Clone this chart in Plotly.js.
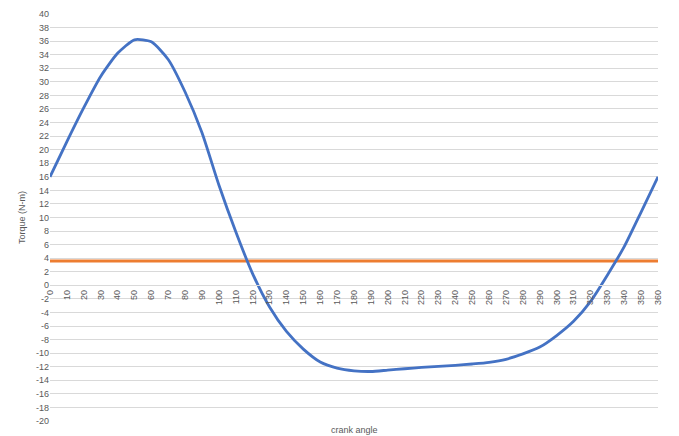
<!DOCTYPE html>
<html>
<head>
<meta charset="utf-8">
<script src="https://cdn.plot.ly/plotly-3.0.1.min.js"></script>
<style>html,body{margin:0;padding:0;background:#fff;}#chart{width:679px;height:436px;}</style>
</head>
<body>
<div id="chart"></div>
<script>
const crankAngle = [0,10,20,30,40,50,60,70,80,90,100,110,120,130,140,150,160,170,180,190,200,210,220,230,240,250,260,270,280,290,300,310,320,330,340,350,360];
const torque = [16,21.2,26.2,30.8,34.2,36.2,35.9,33.3,28.5,22.5,14.8,7.9,1.7,-3.2,-6.8,-9.4,-11.3,-12.2,-12.6,-12.7,-12.5,-12.3,-12.1,-11.95,-11.8,-11.6,-11.35,-10.9,-10.1,-9.1,-7.4,-5.3,-2.4,1.5,5.7,10.8,16];
const meanAngle = [0,360];
const meanTorque = [3.6,3.6];
const xTicks = crankAngle;
const yTicks = [-20,-18,-16,-14,-12,-10,-8,-6,-4,-2,0,2,4,6,8,10,12,14,16,18,20,22,24,26,28,30,32,34,36,38,40];

const fontFam = '"Liberation Sans Narrow", "Liberation Sans", Arial, sans-serif';
const traces = [
  {x: meanAngle, y: meanTorque, type:'scatter', mode:'lines', line:{color:'#ED7D31', width:3}, hoverinfo:'skip'},
  {x: crankAngle, y: torque, type:'scatter', mode:'lines', line:{color:'#4472C4', width:2.8, shape:'spline', smoothing:0.6}}
];
const layout = {
  width:679, height:436,
  margin:{l:50, r:21, t:14, b:15},
  paper_bgcolor:'#fff', plot_bgcolor:'#fff',
  showlegend:false,
  font:{family:fontFam, color:'#595959', size:9},
  xaxis:{
    range:[0,360], tickvals:xTicks, ticktext:xTicks.map(String), tickangle:-90,
    showgrid:false, zeroline:false, showline:true, linecolor:'#d9d9d9', linewidth:1,
    anchor:'free', position:1/3, ticks:'', tickfont:{size:9, color:'#595959'}
  },
  yaxis:{
    range:[-20,40], tickvals:yTicks, ticktext:yTicks.map(String),
    showgrid:true, gridcolor:'#d9d9d9', gridwidth:1, zeroline:false, showline:false,
    ticks:'', tickfont:{size:9, color:'#595959'},
    title:{text:'Torque (N-m)', font:{size:9, color:'#595959'}, standoff:8}
  },
  annotations:[{text:'crank angle', xref:'paper', yref:'paper', x:0.5, y:0, yshift:-9, showarrow:false, font:{size:9, color:'#595959'}, yanchor:'middle'}]
};
Plotly.newPlot('chart', traces, layout, {displayModeBar:false, staticPlot:true});
</script>
</body>
</html>
